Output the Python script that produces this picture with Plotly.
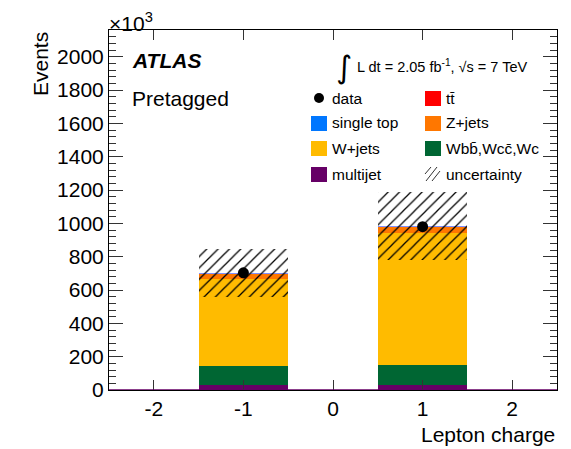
import numpy as np
import plotly.graph_objects as go

# Lepton charge bins and stacked background predictions (in units of 10^3 events)
charge = [-1, 1]
multijet = [30, 30]
wheavy = [114, 120]
wjets = [520, 793]
zjets = [33, 35]
ttbar = [3, 4]
single_top = [2, 2]
data = [703, 980]
uncertainty = [143, 205]

stack_names = ["multijet", "Wbb̄,Wcc̄,Wc", "W+jets", "Z+jets", "tt̄", "single top"]
stack_values = [multijet, wheavy, wjets, zjets, ttbar, single_top]
stack_colors = ["#660066", "#006633", "#ffbb00", "#ff7700", "#ff0000", "#7f8fff"]

y_ticks = list(range(0, 2001, 200))
x_ticks = [-2, -1, 0, 1, 2]

W, H = 571, 449
L, R, T, B = 109, 557, 30, 390


def px(x):
    return (x - L) / (R - L)


def py(y):
    return (B - y) / (B - T)


FONT = "Liberation Sans, Arial, Helvetica, sans-serif"

fig = go.Figure()

base = np.zeros(len(charge))
for name, vals, col in zip(stack_names, stack_values, stack_colors):
    fig.add_trace(go.Bar(
        x=charge, y=vals, base=base.copy(), width=1.0, name=name,
        marker=dict(color=col, line=dict(width=0)), showlegend=False,
    ))
    base = base + np.array(vals)

total = base
err = np.array(uncertainty)
fig.add_trace(go.Bar(
    x=charge, y=2 * err, base=total - err, width=1.0, name="uncertainty",
    marker=dict(color="rgba(0,0,0,0)", line=dict(width=0),
                pattern=dict(shape="/", fgcolor="black", size=8, solidity=0.16,
                             fillmode="replace")),
    showlegend=False,
))

fig.add_trace(go.Scatter(
    x=charge, y=data, mode="markers", name="data",
    marker=dict(color="black", size=11), showlegend=False,
))

shapes = []
# multijet histogram line at zero across the full range
shapes.append(dict(type="line", xref="x", yref="y", x0=-2.5, x1=2.5, y0=0, y1=0,
                   line=dict(color="#660066", width=1.5)))

annotations = []

# Legend drawn as two columns
legend_entries = [
    ("data", "marker", None),
    ("tt̄", "box", "#ff0000"),
    ("single top", "box", "#0077ff"),
    ("Z+jets", "box", "#ff7700"),
    ("W+jets", "box", "#ffbb00"),
    ("Wbb̄,Wcc̄,Wc", "box", "#006633"),
    ("multijet", "box", "#660066"),
    ("uncertainty", "hatch", None),
]
col_x = [319, 433]
text_x = [330, 444]
row_y = [98, 123, 148, 174]
for i, (label, kind, col) in enumerate(legend_entries):
    c, r = i % 2, i // 2
    cx, cy = col_x[c], row_y[r]
    if kind == "box":
        shapes.append(dict(type="rect", xref="paper", yref="paper",
                           x0=px(cx - 8), x1=px(cx + 8), y0=py(cy + 8), y1=py(cy - 7),
                           fillcolor=col, line=dict(width=0)))
    elif kind == "marker":
        shapes.append(dict(type="circle", xref="paper", yref="paper",
                           x0=px(cx - 5), x1=px(cx + 5), y0=py(cy + 5), y1=py(cy - 5),
                           fillcolor="black", line=dict(width=0)))
    else:
        segs = [(-8, 0, -2, -7), (-7, 7, 4, -7), (-1, 7, 7, -3)]
        for (x0, y0, x1, y1) in segs:
            shapes.append(dict(type="line", xref="paper", yref="paper",
                               x0=px(cx + x0), x1=px(cx + x1),
                               y0=py(cy + y0), y1=py(cy + y1),
                               line=dict(color="#333333", width=1)))
    annotations.append(dict(x=px(text_x[c]), y=py(cy), xref="paper", yref="paper",
                            text=label, showarrow=False, xanchor="left", yanchor="middle",
                            font=dict(family=FONT, size=15.5, color="black")))

annotations += [
    dict(x=px(130), y=py(60), xref="paper", yref="paper", text="<b><i>ATLAS</i></b>",
         showarrow=False, xanchor="left", yanchor="middle",
         font=dict(family=FONT, size=21, color="black")),
    dict(x=px(130), y=py(98), xref="paper", yref="paper", text="Pretagged",
         showarrow=False, xanchor="left", yanchor="middle",
         font=dict(family=FONT, size=21, color="black")),
    dict(x=px(344), y=py(67), xref="paper", yref="paper", text="∫",
         showarrow=False, xanchor="center", yanchor="middle",
         font=dict(family="DejaVu Sans, sans-serif", size=31, color="black")),
    dict(x=px(355), y=py(66), xref="paper", yref="paper",
         text="L dt = 2.05 fb<sup>-1</sup>, √s = 7 TeV",
         showarrow=False, xanchor="left", yanchor="middle",
         font=dict(family=FONT, size=14.5, color="black")),
    dict(x=px(107), y=py(22), xref="paper", yref="paper", text="×10<sup>3</sup>",
         showarrow=False, xanchor="left", yanchor="middle",
         font=dict(family=FONT, size=21, color="black")),
    dict(x=px(557), y=py(434), xref="paper", yref="paper", text="Lepton charge",
         showarrow=False, xanchor="right", yanchor="middle",
         font=dict(family=FONT, size=21, color="black")),
    dict(x=px(40), y=py(30), xref="paper", yref="paper", text="Events",
         showarrow=False, xanchor="center", yanchor="top", textangle=-90,
         font=dict(family=FONT, size=21, color="black")),
]

fig.update_layout(
    width=W, height=H,
    margin=dict(l=L, r=W - R, t=T, b=H - B, pad=0),
    paper_bgcolor="white", plot_bgcolor="white",
    barmode="overlay", bargap=0,
    shapes=shapes, annotations=annotations,
    font=dict(family=FONT, size=21, color="black"),
    xaxis=dict(range=[-2.5, 2.5], tickvals=x_ticks, ticktext=[str(v) for v in x_ticks],
               ticks="inside", ticklen=10, tickcolor="#333333", tickwidth=1,
               showline=True, linecolor="black", linewidth=1, mirror="allticks",
               showgrid=False, zeroline=False,
               tickfont=dict(family=FONT, size=21, color="black")),
    yaxis=dict(range=[0, 2160], tickvals=y_ticks, ticktext=[str(v) for v in y_ticks],
               ticks="inside", ticklen=14, tickcolor="#333333", tickwidth=1,
               minor=dict(dtick=40, ticks="inside", ticklen=7, tickcolor="#333333",
                          showgrid=False),
               showline=True, linecolor="black", linewidth=1, mirror="allticks",
               showgrid=False, zeroline=False,
               tickfont=dict(family=FONT, size=21, color="black")),
)

fig.write_html("out.html")
